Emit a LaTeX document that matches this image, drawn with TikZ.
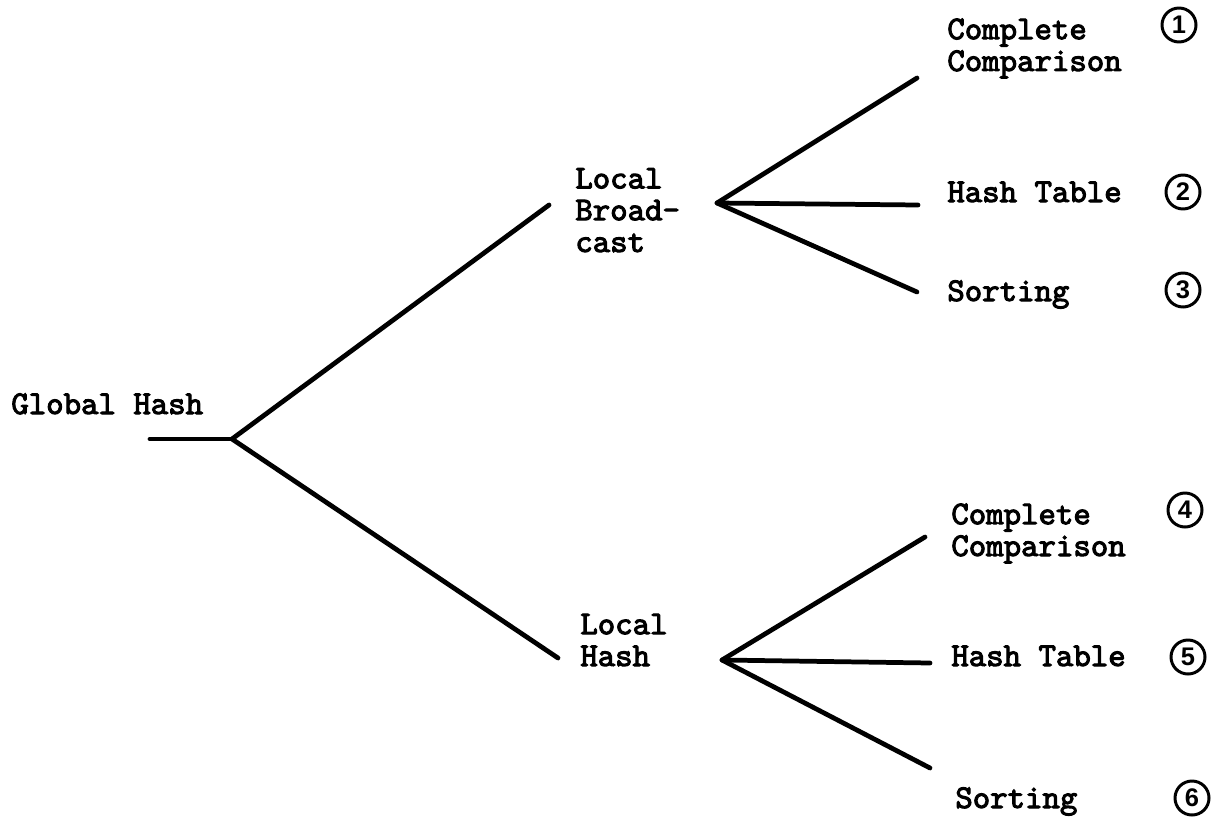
\documentclass[tikz,border=0pt]{standalone}
\usepackage{fontspec}
\newfontfamily\typewriter{lmmono10-regular}[Extension=.otf, FakeBold=3]
\newfontfamily\digitfont{Liberation Sans}
\begin{document}
\begin{tikzpicture}[x=0.02cm,y=-0.02cm,
  label/.style={font=\typewriter\fontsize{18.9}{18.1}\selectfont,
    inner sep=0pt, align=left, anchor=base west},
  branch/.style={line width=2.7pt, line cap=round, line join=round},
  badge/.style={circle, draw, line width=1.7pt, inner sep=0pt,
    minimum size=0.68cm, font=\digitfont\bfseries\fontsize{14.5}{14.5}\selectfont}]
\useasboundingbox (0,0) rectangle (1223,821);

% labels of the tree (multi-line labels sit on the baseline of their last line)
\node[label] (gh) at (11,414) {Global Hash};
\node[label] (lb) at (575,252) {Local\\Broad-\\cast};
\node[label] (lh) at (580,666) {Local\\Hash};
\node[label] (cc1) at (947,71) {Complete\\Comparison};
\node[label] (ht1) at (947,202) {Hash Table};
\node[label] (so1) at (947,301) {Sorting};
\node[label] (cc2) at (951,556) {Complete\\Comparison};
\node[label] (ht2) at (951,666) {Hash Table};
\node[label] (so2) at (955,808) {Sorting};

% circled numbers
\node[badge] (n1) at (1179,25) {1};
\node[badge] (n2) at (1183,192) {2};
\node[badge] (n3) at (1183,290) {3};
\node[badge] (n4) at (1185,510) {4};
\node[badge] (n5) at (1188,657) {5};
\node[badge] (n6) at (1192,798) {6};

% branch points and line ends
\coordinate (root) at (150,439);
\coordinate (f0) at (232,439);
\coordinate (lbin) at (549,205);
\coordinate (lhin) at (558,658);
\coordinate (f1) at (717,203);
\coordinate (f2) at (722,660);
\coordinate (e1) at (917,78);
\coordinate (e2) at (918,205);
\coordinate (e3) at (917,292);
\coordinate (e4) at (925,537);
\coordinate (e5) at (930,663);
\coordinate (e6) at (930,768);

% branches
\draw[branch] (root) -- (f0);
\draw[branch] (lbin) -- (f0) -- (lhin);
\draw[branch] (e1) -- (f1) -- (e3);
\draw[branch] (f1) -- (e2);
\draw[branch] (e4) -- (f2) -- (e6);
\draw[branch] (f2) -- (e5);
\end{tikzpicture}
\end{document}
